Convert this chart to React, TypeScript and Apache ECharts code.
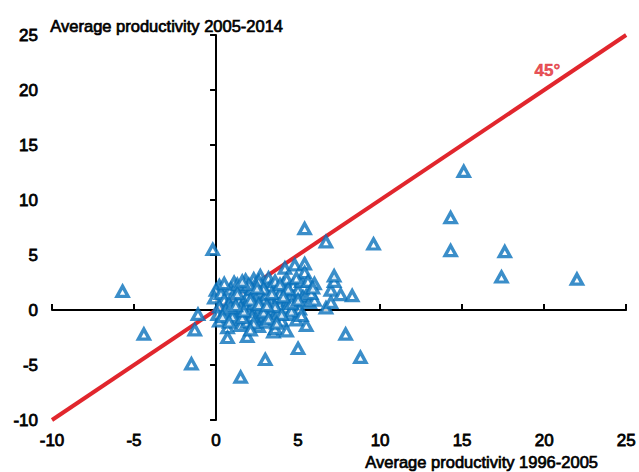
import React, { useEffect, useRef } from "react";
import * as echarts from "echarts";

// Average productivity growth: [1996-2005, 2005-2014]
const outliers: [number, number][] = [
  [-5.7, 1.7], [-4.4, -2.2], [-1.5, -4.9], [-1.3, -1.8], [-1.1, -0.4], [-0.2, 5.5],
  [1.5, -6.1], [3.0, -4.5], [5.0, -3.5], [5.4, 7.4], [6.7, 6.2], [7.9, -2.2],
  [8.8, -4.3], [9.6, 6.0], [14.3, 8.4], [15.1, 12.6], [14.3, 5.4], [17.4, 3.0],
  [17.6, 5.3], [22.0, 2.8],
];

const cluster: [number, number][] = [
  [0.2, 2.2], [0.0, 1.8], [-0.1, 1.1], [0.3, 1.5], [0.5, 0.9], [0.2, 0.3], [0.1, -0.4],
  [0.2, -1.0], [0.7, -1.6], [0.7, -2.5], [1.1, 2.5], [0.9, 1.9], [1.0, 1.2], [0.8, 0.5],
  [1.1, -0.2], [1.2, -0.9], [1.5, -1.4], [1.4, 0.8], [1.6, 1.6], [1.8, 2.7], [1.7, 2.1],
  [1.9, 1.2], [1.8, 0.4], [2.0, -0.3], [1.9, -1.1], [1.9, -2.4], [2.3, 2.8], [2.2, 1.9],
  [2.4, 1.3], [2.3, 0.6], [2.5, -0.1], [2.4, -0.8], [2.6, -1.5], [2.7, 3.1], [2.8, 2.3],
  [2.7, 1.6], [2.9, 0.9], [2.8, 0.2], [3.0, -0.5], [3.0, -1.1], [3.2, 2.9], [3.3, 2.1],
  [3.1, 1.4], [3.4, 0.7], [3.3, 0.0], [3.5, -0.7], [3.5, -2.0], [3.6, -1.7], [3.7, 1.8],
  [3.8, 1.1], [3.9, 0.4], [3.8, -0.3], [4.0, -1.0], [4.1, 2.4], [4.2, 3.8], [4.3, 2.8],
  [4.2, 1.6], [4.4, 0.9], [4.3, 0.2], [4.5, -0.4], [4.3, -1.9], [4.6, 1.3], [4.7, 2.2],
  [4.8, 4.1], [4.8, 0.6], [4.9, -0.9], [5.0, 1.8], [5.1, 0.1], [5.2, 2.6], [5.4, 4.2],
  [5.4, 3.4], [5.3, 1.2], [5.5, 1.3], [5.5, -1.4], [5.6, 2.6], [5.7, 0.7], [6.0, 2.4],
  [6.0, 0.9], [6.7, 0.2], [7.0, 0.7], [7.0, 1.8], [7.2, 2.6], [7.2, 3.1], [7.6, 1.4],
  [8.3, 1.3], [1.3, 2.3], [1.5, 0.2], [2.1, 0.9], [2.6, 2.6], [3.6, 2.6], [0.6, 0.0],
  [1.0, -0.6], [2.2, -0.6], [3.9, 1.5], [4.6, -0.1], [1.6, -0.7], [2.9, -0.2], [0.4, -0.6],
  [0.5, 2.4], [0.9, 0.2], [1.3, 1.5], [1.7, -0.1], [2.0, 2.3], [2.3, -1.2], [2.6, 0.5],
  [2.9, 1.9], [3.2, -0.8], [3.4, 1.5], [3.6, 0.3], [3.9, 2.3], [4.0, -0.4], [4.4, 1.9],
  [4.6, 0.6], [5.0, 0.9], [5.2, -0.5], [5.8, 1.5], [1.2, 0.4], [1.6, 2.6], [2.5, 2.0],
  [3.1, 0.4], [3.7, -1.2], [4.1, 1.2], [5.9, 2.0], [0.8, -1.1], [2.1, -1.8], [4.9, 2.9],
];

const diagonalX = [-10, 25];
const diagonalY = [-10, 25];
const diagonalLabel: [number, number] = [20.2, 21.8];

const axisMin = -10;
const axisMax = 25;
const axisStep = 5;

const BLUE = "#0a72bc";
const RED = "#e1262d";
const FONT = "Liberation Sans";

export default function App() {
  const ref = useRef<HTMLDivElement>(null);

  useEffect(() => {
    if (!ref.current) return;
    const chart = echarts.init(ref.current, undefined, { renderer: "svg" });
    const common = { type: "value" as const, min: axisMin, max: axisMax, interval: axisStep, splitLine: { show: false } };
    const labelStyle = {
      show: true,
      color: "#000",
      fontSize: 17,
      fontFamily: FONT,
      textBorderColor: "#000",
      textBorderWidth: 0.8,
    };
    chart.setOption({
      animation: false,
      backgroundColor: "#ffffff",
      grid: { left: 52, right: 11, top: 35, bottom: 52, containLabel: false },
      xAxis: [
        {
          ...common,
          axisLine: { show: true, onZero: true, onZeroAxisIndex: 0, lineStyle: { color: "#000", width: 2 } },
          axisTick: { show: true, inside: true, length: 6, lineStyle: { color: "#000", width: 2 } },
          axisLabel: { show: false },
        },
        {
          ...common,
          position: "bottom",
          axisLine: { show: false, onZero: false },
          axisTick: { show: false },
          axisLabel: { ...labelStyle, margin: 12 },
        },
      ],
      yAxis: [
        {
          ...common,
          axisLine: { show: true, onZero: true, onZeroAxisIndex: 0, lineStyle: { color: "#000", width: 2 } },
          axisTick: { show: true, inside: false, length: 6, lineStyle: { color: "#000", width: 2 } },
          axisLabel: { show: false },
        },
        {
          ...common,
          position: "left",
          axisLine: { show: false, onZero: false },
          axisTick: { show: false },
          axisLabel: { ...labelStyle, margin: 14 },
        },
      ],
      graphic: [
        {
          type: "text",
          left: 50,
          top: 17,
          style: {
            text: "Average productivity 2005-2014",
            fill: "#000",
            font: `16.5px "${FONT}"`,
            stroke: "#000",
            lineWidth: 0.7,
          },
        },
        {
          type: "text",
          x: 598,
          y: 462,
          style: {
            text: "Average productivity 1996-2005",
            fill: "#000",
            font: `16.5px "${FONT}"`,
            stroke: "#000",
            lineWidth: 0.7,
            align: "right",
            verticalAlign: "middle",
          },
        },
      ],
      series: [
        {
          type: "line",
          xAxisIndex: 0,
          yAxisIndex: 0,
          data: diagonalX.map((x, i) => [x, diagonalY[i]]),
          symbol: "none",
          lineStyle: { color: RED, width: 4 },
          z: 2,
        },
        {
          type: "scatter",
          xAxisIndex: 0,
          yAxisIndex: 0,
          data: [...cluster, ...outliers],
          symbol: "triangle",
          symbolSize: [11, 10],
          itemStyle: { color: "#ffffff", borderColor: BLUE, borderWidth: 3.4 },
          z: 3,
        },
        {
          type: "scatter",
          xAxisIndex: 0,
          yAxisIndex: 0,
          data: [diagonalLabel],
          symbolSize: 0,
          label: {
            show: true,
            position: "inside",
            formatter: "45°",
            color: RED,
            fontSize: 17,
            fontWeight: "bold",
            fontFamily: FONT,
            textBorderColor: RED,
            textBorderWidth: 0.5,
          },
          z: 4,
        },
      ],
    });
    return () => chart.dispose();
  }, []);

  return (
    <div
      ref={ref}
      style={{ position: "fixed", left: 0, top: 0, width: 639, height: 472 }}
    />
  );
}
